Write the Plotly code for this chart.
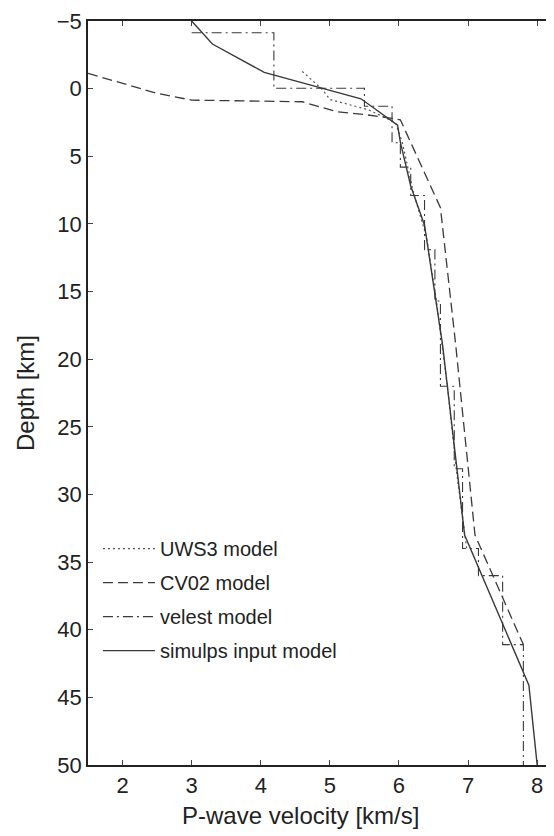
import plotly.graph_objects as go

# ---- data (velocity km/s, depth km) ----
uws3_v = [4.6, 4.77, 4.9, 5.0, 5.55, 5.95, 6.05, 6.2, 6.4, 6.55, 6.7, 6.85, 6.98]
uws3_d = [-1.27, -0.5, 0.1, 0.8, 1.55, 2.5, 4.0, 7.5, 11.0, 16.0, 22.0, 29.0, 34.0]

cv02_v = [1.5, 2.5, 3.0, 4.6, 5.1, 5.55, 5.9, 6.02, 6.6, 6.82, 7.1, 7.8]
cv02_d = [-1.13, 0.35, 0.85, 0.97, 1.7, 1.95, 2.2, 2.3, 8.8, 18.9, 33.0, 41.1]

velest_v = [3.0, 4.19, 4.19, 5.5, 5.5, 5.9, 5.9, 6.02, 6.02, 6.17, 6.17, 6.37, 6.37,
            6.52, 6.52, 6.6, 6.6, 6.8, 6.8, 6.92, 6.92, 7.15, 7.15, 7.5, 7.5, 7.8, 7.8]
velest_d = [-4.13, -4.13, -0.03, -0.03, 1.3, 1.3, 4.0, 4.0, 5.8, 5.8, 7.9, 7.9, 11.9,
            11.9, 15.7, 15.7, 22.0, 22.0, 28.1, 28.1, 34.0, 34.0, 36.0, 36.0, 41.1, 41.1, 50.0]

simulps_v = [3.0, 3.3, 4.05, 5.45, 5.98, 6.02, 6.17, 6.37, 6.63, 6.95, 7.88, 8.0]
simulps_d = [-5.0, -3.3, -1.2, 0.75, 2.7, 3.95, 7.2, 10.1, 18.9, 33.0, 44.1, 50.0]

x_ticks = [2, 3, 4, 5, 6, 7, 8]
y_ticks = [-5, 0, 5, 10, 15, 20, 25, 30, 35, 40, 45, 50]

LC = "#3a3a3a"
FONT = "Liberation Sans, Arial, sans-serif"

fig = go.Figure()
series = [
    ("UWS3 model", uws3_v, uws3_d, "2px,3px", 1.2, "#555555"),
    ("CV02 model", cv02_v, cv02_d, "10px,5px", 1.3, LC),
    ("velest model", velest_v, velest_d, "10px,4px,2px,4px", 1.1, LC),
    ("simulps input model", simulps_v, simulps_d, "solid", 1.4, LC),
]
for i, (name, v, d, dash, w, c) in enumerate(series):
    fig.add_trace(go.Scatter(
        x=v, y=d, mode="lines", name=name, legendgroup=f"g{i}",
        line=dict(color=c, width=w, dash=dash),
    ))

axis_common = dict(
    showline=True, linecolor="#222222", linewidth=1.5, mirror="ticks",
    ticks="inside", ticklen=5, tickwidth=1, tickcolor="#444444",
    showgrid=False, zeroline=False, ticklabeloverflow="allow",
    tickfont=dict(family=FONT, size=22, color="#222222"),
)

# body has an 8px default margin; compensate so the plot area lands at
# x 88..553, y 20..757 in the 554x836 window
fig.update_layout(
    width=546, height=828, autosize=False,
    margin=dict(l=80, r=1, t=12, b=71),
    paper_bgcolor="white", plot_bgcolor="white",
    font=dict(family=FONT, size=20, color="#222222"),
    xaxis=dict(range=[1.5, 8.2], tickvals=x_ticks, **axis_common),
    yaxis=dict(range=[50, -5], tickvals=y_ticks,
               title=dict(text="Depth [km]", font=dict(size=24), standoff=15),
               **axis_common),
    legend=dict(x=0.0215, y=0.317, xanchor="left", yanchor="top",
                bgcolor="rgba(0,0,0,0)", font=dict(family=FONT, size=20),
                traceorder="grouped", tracegroupgap=5, itemwidth=52),
    showlegend=True,
    annotations=[dict(
        text="P-wave velocity [km/s]", xref="paper", yref="paper",
        x=0.458, y=0, xanchor="center", yanchor="top", yshift=-35,
        showarrow=False, font=dict(family=FONT, size=24, color="#222222"),
    )],
)

fig.write_html("out.html")
